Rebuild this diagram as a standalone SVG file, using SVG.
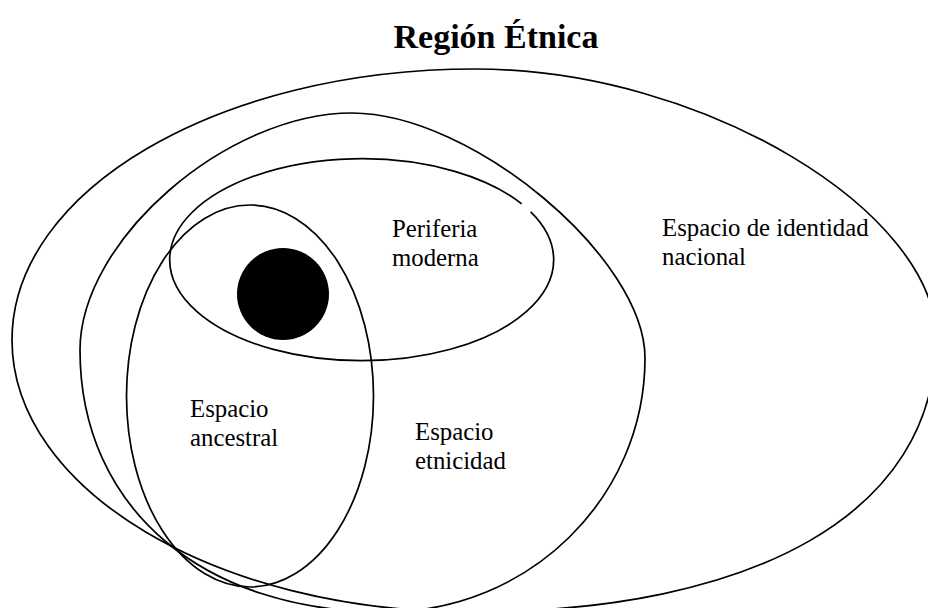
<svg xmlns="http://www.w3.org/2000/svg" width="928" height="608" viewBox="0 0 928 608">
<style>
  .shape { fill: none; stroke: #000; stroke-width: 1.7; }
  text { font-family: 'Liberation Serif', 'DejaVu Serif', serif; fill: #000; }
  .lbl { font-size: 24.8px; }
  .title { font-size: 34px; font-weight: bold; }
</style>
<rect width="928" height="608" fill="#fff"/>
<text class="title" x="496" y="48" text-anchor="middle" font-family="Liberation Serif, serif">Región Étnica</text>
<g id="nacional">
  <path class="shape" d="M 475 69 C 705 69 936 213 936 338 C 936 513 755 612 470 612 C 217 612 12 490 12 340 C 12 190 219 69 475 69 Z"/>
  <text class="lbl" x="662" y="236" font-family="Liberation Serif, serif">Espacio de identidad</text>
  <text class="lbl" x="662" y="265" font-family="Liberation Serif, serif">nacional</text>
</g>
<g id="etnicidad">
  <path class="shape" d="M 352 113 C 472 113 645 258 645 358 C 645 498 529 612 385 612 C 205 612 80 510 80 350 C 80 240 227 113 352 113 Z"/>
  <text class="lbl" x="415" y="440" font-family="Liberation Serif, serif">Espacio</text>
  <text class="lbl" x="415" y="469" font-family="Liberation Serif, serif">etnicidad</text>
</g>
<g id="periferia">
  <path class="shape" d="M 530.7 211.8 A 192 101 0 1 1 521.7 203.9"/>
  <text class="lbl" x="392" y="237" font-family="Liberation Serif, serif">Periferia</text>
  <text class="lbl" x="392" y="265.5" font-family="Liberation Serif, serif">moderna</text>
</g>
<g id="ancestral">
  <ellipse class="shape" cx="250" cy="396" rx="123.5" ry="191"/>
  <text class="lbl" x="190" y="417" font-family="Liberation Serif, serif">Espacio</text>
  <text class="lbl" x="190" y="445.5" font-family="Liberation Serif, serif">ancestral</text>
</g>
<g id="nucleo">
  <circle cx="283" cy="294" r="46" fill="#000"/>
</g>
<g id="connectors"></g>
</svg>
